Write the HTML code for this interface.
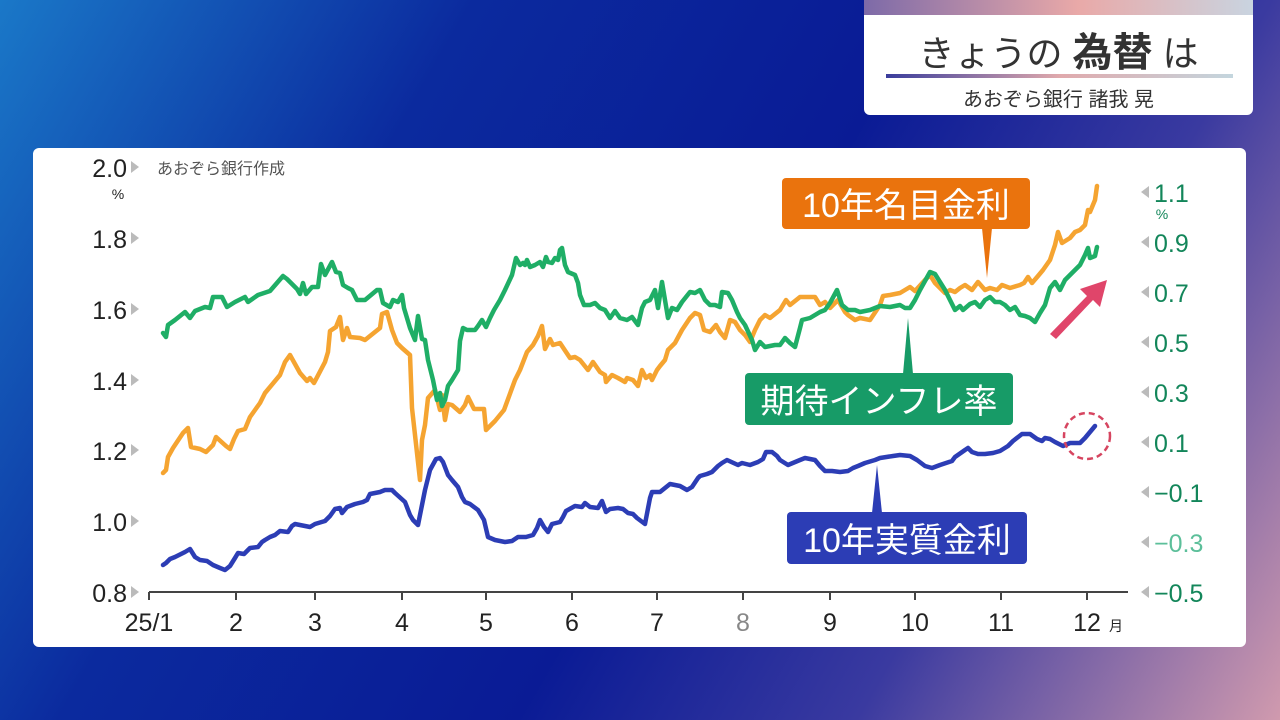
<!DOCTYPE html>
<html><head><meta charset="utf-8"><style>
html,body{margin:0;padding:0;width:1280px;height:720px;overflow:hidden}
body{background:linear-gradient(120deg,#1a78c8 0%,#0b2a9e 28%,#0a1b95 55%,#3a3aa0 75%,#d09aae 100%);font-family:"Liberation Sans","Noto Sans CJK JP",sans-serif;position:relative}
.tb{position:absolute;left:864px;top:0;width:389px;height:115px;background:#fff;border-radius:0 0 6px 6px;overflow:hidden}
.tb .strip{height:15px;background:linear-gradient(90deg,#7d6aa8,#e9a9a8 55%,#c9d4e0)}
.tb .t{position:absolute;left:0;right:0;top:20px;text-align:center;font-size:36px;color:#333}
.tb .l{position:absolute;left:22px;right:20px;top:74px;height:4px;background:linear-gradient(90deg,#3a3d9c,#e0a9ac 50%,#c4d6de)}
.tb .s{position:absolute;left:0;right:0;top:83px;text-align:center;font-size:20px;color:#333}
</style></head><body>
<div class="tb"><div class="strip"></div><div class="t">きょうの <b style="font-size:40px">為替</b> は</div><div class="l"></div><div class="s">あおぞら銀行 諸我 晃</div></div>
<svg width="1280" height="720" style="position:absolute;left:0;top:0">
<rect x="33" y="148" width="1213" height="499" rx="6" fill="#fff"/>
<g font-family="Liberation Sans, Noto Sans CJK JP, sans-serif">
<g font-size="25" fill="#222" text-anchor="end">
<text x="127" y="177">2.0</text><text x="127" y="248">1.8</text><text x="127" y="319">1.6</text><text x="127" y="390">1.4</text><text x="127" y="460">1.2</text><text x="127" y="531">1.0</text><text x="127" y="602">0.8</text>
</g>
<text x="118" y="199" font-size="14" fill="#222" text-anchor="middle">%</text>
<g fill="#bbb">
<path d="M131,161l8,6l-8,6z"/><path d="M131,232l8,6l-8,6z"/><path d="M131,303l8,6l-8,6z"/><path d="M131,374l8,6l-8,6z"/><path d="M131,444l8,6l-8,6z"/><path d="M131,515l8,6l-8,6z"/><path d="M131,586l8,6l-8,6z"/>
<path d="M1149,186l-8,6l8,6z"/><path d="M1149,236l-8,6l8,6z"/><path d="M1149,286l-8,6l8,6z"/><path d="M1149,336l-8,6l8,6z"/><path d="M1149,386l-8,6l8,6z"/><path d="M1149,436l-8,6l8,6z"/><path d="M1149,486l-8,6l8,6z"/><path d="M1149,536l-8,6l8,6z"/><path d="M1149,586l-8,6l8,6z"/>
</g>
<text x="157" y="174" font-size="16" fill="#555">あおぞら銀行作成</text>
<g font-size="25" fill="#13865a">
<text x="1154" y="202">1.1</text><text x="1154" y="252">0.9</text><text x="1154" y="302">0.7</text><text x="1154" y="352">0.5</text><text x="1154" y="402">0.3</text><text x="1154" y="452">0.1</text><text x="1154" y="502">−0.1</text><text x="1154" y="552" fill="#5cbf9a">−0.3</text><text x="1154" y="602">−0.5</text>
</g>
<text x="1162" y="219" font-size="14" fill="#13865a" text-anchor="middle">%</text>
<path d="M149,592H1128M149,592v8M236,592v8M315,592v8M402,592v8M486,592v8M572,592v8M657,592v8M743,592v8M830,592v8M915,592v8M1001,592v8M1087,592v8" stroke="#444" stroke-width="2" fill="none"/>
<g font-size="25" fill="#222" text-anchor="middle">
<text x="149" y="631">25/1</text><text x="236" y="631">2</text><text x="315" y="631">3</text><text x="402" y="631">4</text><text x="486" y="631">5</text><text x="572" y="631">6</text><text x="657" y="631">7</text><text x="743" y="631" fill="#888">8</text><text x="830" y="631">9</text><text x="915" y="631">10</text><text x="1001" y="631">11</text><text x="1087" y="631">12</text>
</g>
<text x="1109" y="631" font-size="14" fill="#222">月</text>
<g fill="none" stroke-width="4.5" stroke-linejoin="round" stroke-linecap="round">
<polyline stroke="#f5a431" points="163,473 166,470 168,457 173,448 183,433 188,428 191,447 200,449 206,452 213,445 216,437 226,446 230,449 234,439 238,431 245,429 250,417 255,410 260,403 265,393 280,375 285,362 290,355 300,373 307,381 310,378 314,383 325,362 328,352 330,331 336,327 340,317 343,340 347,328 350,337 360,338 365,340 375,332 380,328 382,314 387,312 392,330 397,343 402,348 410,355 412,408 415,435 420,480 422,440 425,425 428,398 435,390 440,410 442,395 445,420 448,404 452,405 460,412 465,405 468,397 474,409 484,409 486,430 495,421 504,410 515,380 520,370 527,352 533,345 538,336 542,326 545,349 550,339 553,345 560,343 564,349 570,358 575,357 580,360 588,370 593,362 600,372 605,375 606,382 612,375 618,378 625,382 627,378 633,380 638,386 642,370 646,378 650,375 652,380 657,370 660,366 665,360 668,350 675,343 682,330 690,318 695,313 700,315 704,330 710,332 716,325 720,332 725,338 730,320 735,322 740,330 745,335 750,342 755,330 760,320 765,315 770,318 780,310 783,305 786,300 790,305 800,297 815,297 820,305 825,302 830,308 838,300 845,312 848,315 855,320 860,318 870,320 880,305 883,296 890,295 900,293 910,287 915,291 925,280 930,275 935,283 945,293 950,290 955,292 960,288 965,285 972,290 978,282 985,290 990,288 997,290 1002,285 1010,288 1020,285 1024,283 1028,277 1032,283 1038,276 1043,270 1050,260 1055,245 1058,232 1062,243 1070,238 1075,232 1080,230 1085,225 1088,210 1090,212 1095,200 1097,186"/>
<polyline stroke="#1fae66" points="163,333 166,337 168,325 175,320 185,312 190,318 195,311 205,307 210,308 213,297 222,297 227,307 235,302 245,297 248,302 258,295 270,291 283,276 287,279 297,289 300,294 303,283 306,294 312,287 318,287 321,264 325,275 332,262 336,272 340,273 343,285 348,288 352,290 357,300 365,300 377,290 380,290 383,303 390,307 393,300 398,302 402,295 404,308 410,328 415,340 418,316 422,339 425,340 428,360 433,380 437,400 440,393 442,406 445,400 448,386 452,380 458,370 460,341 463,328 467,330 470,330 475,330 478,326 482,320 486,327 490,318 494,310 500,300 505,290 512,275 516,258 520,265 523,263 525,265 527,260 530,267 535,265 540,262 543,267 546,257 548,262 552,263 555,258 558,260 560,250 562,248 565,265 568,272 575,275 578,283 580,295 584,305 590,305 595,303 600,308 605,310 610,318 615,311 620,318 627,320 632,317 638,325 642,308 645,302 650,300 655,290 658,308 662,282 668,318 672,308 677,310 682,302 690,292 695,293 700,290 705,300 710,305 715,305 720,307 722,292 728,293 732,300 737,312 740,318 745,325 752,340 755,350 760,342 765,347 775,345 780,345 785,338 790,343 795,347 800,328 802,320 810,318 820,312 825,310 830,303 837,290 842,305 848,310 855,310 860,312 870,310 880,306 890,307 900,305 905,308 910,308 915,300 920,290 930,272 935,274 940,282 945,290 950,300 955,310 960,306 963,310 970,304 975,302 980,307 985,300 990,297 995,302 1000,302 1005,305 1010,310 1015,307 1020,315 1025,316 1030,318 1035,322 1040,313 1045,305 1050,288 1055,282 1060,290 1065,280 1070,275 1075,270 1080,265 1085,255 1088,248 1090,258 1095,256 1097,247"/>
<polyline stroke="#2c3db5" points="163,565 166,563 170,559 175,557 185,552 190,549 195,557 200,560 207,561 213,565 220,568 225,570 230,566 235,558 238,553 244,554 250,548 258,547 262,542 265,540 270,537 275,535 280,531 288,532 292,526 295,524 300,525 310,527 315,524 325,521 330,516 335,509 340,508 342,513 347,507 355,504 363,502 367,500 370,494 380,492 385,490 392,490 395,493 405,502 410,515 413,520 418,525 422,505 425,490 430,470 436,459 440,458 443,462 448,475 452,480 458,487 462,497 465,502 470,504 478,510 484,520 488,537 495,540 505,542 512,541 518,537 526,537 533,535 537,528 540,520 544,527 548,532 552,524 560,522 563,517 566,511 575,506 582,507 585,503 590,507 598,508 602,501 606,512 610,509 618,508 623,509 628,513 633,514 637,518 645,524 650,498 652,492 660,492 670,484 680,486 687,490 692,487 698,478 700,476 707,474 712,472 718,466 722,463 727,460 738,465 742,463 750,465 758,462 763,459 766,452 772,452 777,456 780,460 788,465 800,460 805,458 815,460 820,466 825,471 832,471 840,472 848,471 853,468 858,466 865,463 875,460 880,458 893,456 900,455 910,456 917,460 925,466 932,468 940,465 952,461 955,457 965,450 968,448 972,452 978,454 985,454 993,453 1000,451 1008,446 1013,441 1022,434 1030,434 1037,439 1042,441 1045,438 1050,439 1055,442 1063,446 1070,443 1080,443 1085,438 1090,432 1095,426"/>
</g>
<rect x="782" y="178" width="248" height="51" rx="4" fill="#ea730d"/>
<path d="M982,228l5,50l5,-50z" fill="#ea730d"/>
<text x="906" y="217" font-size="34" fill="#fff" text-anchor="middle">10年名目金利</text>
<rect x="745" y="373" width="268" height="52" rx="4" fill="#179b67"/>
<path d="M903,374l5,-56l5,56z" fill="#179b67"/>
<text x="879" y="413" font-size="34" fill="#fff" text-anchor="middle">期待インフレ率</text>
<rect x="787" y="512" width="240" height="52" rx="4" fill="#2c3db5"/>
<path d="M872,513l5,-48l5,48z" fill="#2c3db5"/>
<text x="907" y="552" font-size="34" fill="#fff" text-anchor="middle">10年実質金利</text>
<path d="M1050,334 L1087,296 L1080,289 L1107,280 L1100,307 L1093,300 L1056,339z" fill="#e0456a"/>
<circle cx="1087" cy="436" r="23" fill="none" stroke="#d64560" stroke-width="2.5" stroke-dasharray="6,4"/>
</g>
</svg>
</body></html>
